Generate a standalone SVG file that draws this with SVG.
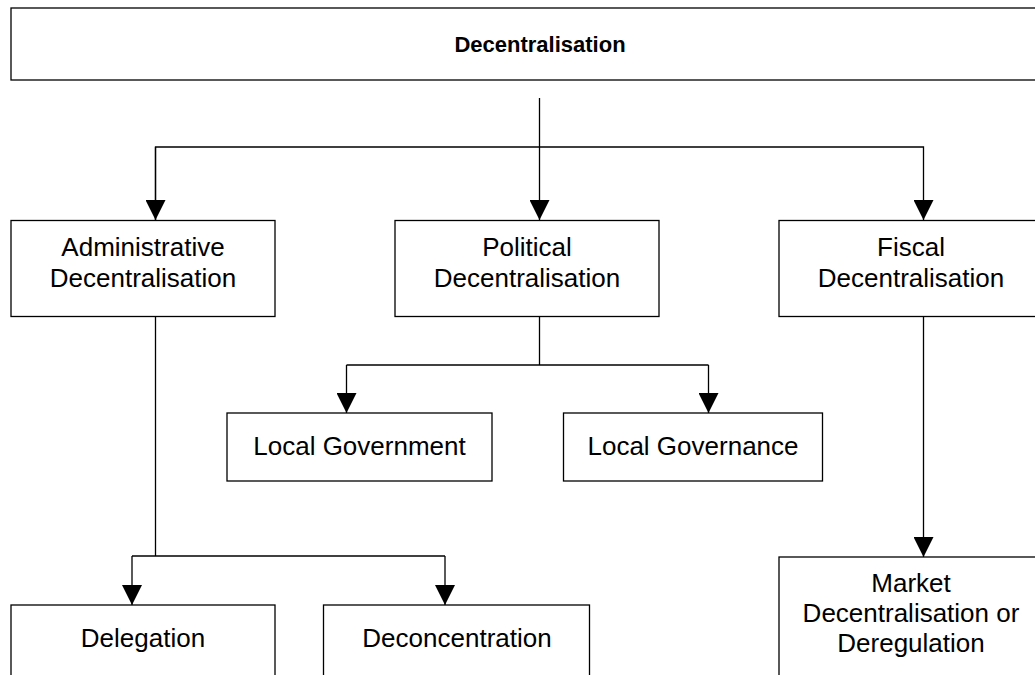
<svg xmlns="http://www.w3.org/2000/svg" width="1035" height="675" viewBox="0 0 1035 675">
<style>
.box{fill:#fff;stroke:#000;stroke-width:1.3}
.ln{fill:none;stroke:#000;stroke-width:1.3}
.t{font-family:"Liberation Sans",Arial,sans-serif;font-size:26px;fill:#000;text-anchor:middle}
.tb{font-family:"Liberation Sans",Arial,sans-serif;font-size:22px;font-weight:bold;fill:#000;text-anchor:middle}
</style>
<defs>
<marker id="arr" markerUnits="userSpaceOnUse" markerWidth="20" markerHeight="20" refX="20" refY="10" orient="auto" viewBox="0 0 20 20">
<path d="M0,0 L20,10 L0,20 Z" fill="#000"/>
</marker>
</defs>
<rect width="1035" height="675" fill="#fff"/>
<g id="connectors">
<line class="ln" x1="539.5" y1="98" x2="539.5" y2="220" marker-end="url(#arr)"/>
<polyline class="ln" points="155.5,220 155.5,147 923.5,147 923.5,220" marker-end="url(#arr)"/>
<path class="ln" d="M155.5,147 L155.5,220" marker-end="url(#arr)"/>
<line class="ln" x1="539.5" y1="316" x2="539.5" y2="365"/>
<path class="ln" d="M346.5,365 L708.5,365"/>
<line class="ln" x1="346.5" y1="365" x2="346.5" y2="413" marker-end="url(#arr)"/>
<line class="ln" x1="708.5" y1="365" x2="708.5" y2="413" marker-end="url(#arr)"/>
<line class="ln" x1="155.5" y1="316" x2="155.5" y2="556"/>
<path class="ln" d="M132,556 L445,556"/>
<line class="ln" x1="132" y1="556" x2="132" y2="605" marker-end="url(#arr)"/>
<line class="ln" x1="445" y1="556" x2="445" y2="605" marker-end="url(#arr)"/>
<line class="ln" x1="923.5" y1="316" x2="923.5" y2="557" marker-end="url(#arr)"/>
</g>
<g id="n-decentralisation">
<rect class="box" x="11" y="8" width="1058" height="72"/>
<text class="tb" x="540" y="52">Decentralisation</text>
</g>
<g id="n-administrative">
<rect class="box" x="11" y="220.5" width="264" height="96"/>
<text class="t" x="143" y="256">Administrative</text>
<text class="t" x="143" y="287">Decentralisation</text>
</g>
<g id="n-political">
<rect class="box" x="395" y="220.5" width="264" height="96"/>
<text class="t" x="527" y="256">Political</text>
<text class="t" x="527" y="287">Decentralisation</text>
</g>
<g id="n-fiscal">
<rect class="box" x="779" y="220.5" width="264" height="96"/>
<text class="t" x="911" y="256">Fiscal</text>
<text class="t" x="911" y="287">Decentralisation</text>
</g>
<g id="n-local-government">
<rect class="box" x="227" y="413" width="265" height="68"/>
<text class="t" x="359.5" y="455">Local Government</text>
</g>
<g id="n-local-governance">
<rect class="box" x="563.5" y="413" width="259" height="68"/>
<text class="t" x="693" y="455">Local Governance</text>
</g>
<g id="n-delegation">
<rect class="box" x="11" y="605" width="264" height="100"/>
<text class="t" x="143" y="647">Delegation</text>
</g>
<g id="n-deconcentration">
<rect class="box" x="323.5" y="605" width="266" height="100"/>
<text class="t" x="457" y="647">Deconcentration</text>
</g>
<g id="n-market">
<rect class="box" x="779" y="557" width="264" height="150"/>
<text class="t" x="911" y="592">Market</text>
<text class="t" x="911" y="622">Decentralisation or</text>
<text class="t" x="911" y="652">Deregulation</text>
</g>
</svg>
